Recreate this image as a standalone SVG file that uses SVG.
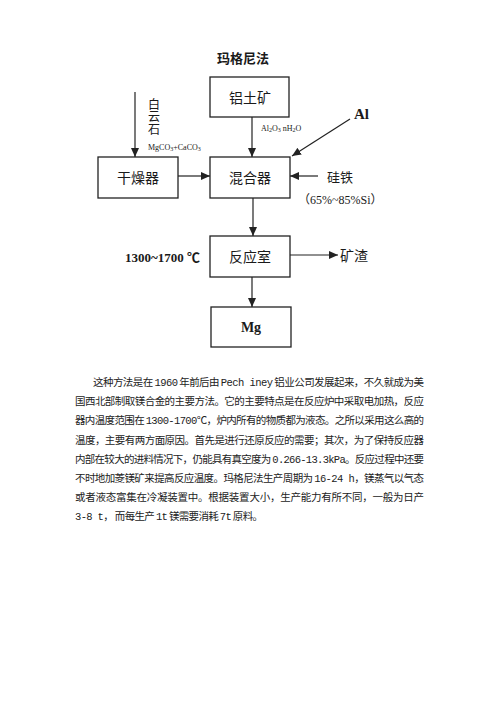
<svg xmlns="http://www.w3.org/2000/svg" width="496" height="702" viewBox="0 0 496 702">
<style>
.box{fill:#fff;stroke:#222;stroke-width:1.3}
.bt{font-family:"Noto Sans CJK SC","Noto Sans",sans-serif;font-size:14px;fill:#1a1a1a;text-anchor:middle;dominant-baseline:central}
.lbl{font-family:"Liberation Serif","Noto Sans CJK SC",serif;fill:#1a1a1a;dominant-baseline:central}
.cn{font-family:"Noto Sans CJK SC","Noto Sans",sans-serif;fill:#1a1a1a;dominant-baseline:central}
.conn line{stroke:#222;stroke-width:1.2;marker-end:url(#ah)}
.p{font-family:"Noto Sans CJK SC","Noto Sans CJK JP",sans-serif;font-size:10.5px;fill:#222}
.m{font-family:"Liberation Mono",monospace}
</style>
<defs>
<marker id="ah" markerUnits="userSpaceOnUse" markerWidth="9" markerHeight="8" refX="9" refY="4" orient="auto">
<path d="M0,0 L9,4 L0,8 z" fill="#222"/>
</marker>
</defs>
<rect width="496" height="702" fill="#fff"/>
<text x="243" y="57" class="cn" font-size="13" font-weight="bold" text-anchor="middle">玛格尼法</text>

<g id="lvtu">
<rect class="box" x="210" y="77" width="79" height="40"/>
<text class="bt" x="250" y="97">铝土矿</text>
</g>
<g id="ganzaoqi">
<rect class="box" x="98" y="157" width="80" height="41"/>
<text class="bt" x="138" y="177">干燥器</text>
</g>
<g id="hunheqi">
<rect class="box" x="210" y="157" width="80" height="41"/>
<text class="bt" x="250" y="177">混合器</text>
</g>
<g id="fanyingshi">
<rect class="box" x="210" y="236" width="80" height="41"/>
<text class="bt" x="250" y="256">反应室</text>
</g>
<g id="mg">
<rect class="box" x="211" y="307" width="80" height="40"/>
<text x="251" y="327" class="lbl" font-size="14" font-weight="bold" text-anchor="middle">Mg</text>
</g>

<g id="labels">
<text font-family="Noto Sans CJK SC, sans-serif" fill="#1a1a1a" font-size="12" x="154" y="98" writing-mode="vertical-rl" letter-spacing="0.5">白云石</text>
<text class="lbl" font-size="8" x="148" y="147">MgCO<tspan font-size="6" dy="2">3</tspan><tspan dy="-2">+CaCO</tspan><tspan font-size="6" dy="2">3</tspan></text>
<text class="lbl" font-size="8" x="261" y="128">Al<tspan font-size="6" dy="2">2</tspan><tspan dy="-2">O</tspan><tspan font-size="6" dy="2">3</tspan><tspan dy="-2"> nH</tspan><tspan font-size="6" dy="2">2</tspan><tspan dy="-2">O</tspan></text>
<text class="lbl" font-size="15" font-weight="bold" x="354" y="114">Al</text>
<text class="cn" font-size="13" x="327" y="176">硅铁</text>
<text class="lbl" font-size="12" x="298" y="200">（65%~85%Si）</text>
<text class="lbl" font-size="13" font-weight="bold" x="125" y="257">1300~1700 ℃</text>
<text class="cn" font-size="14" x="340" y="255">矿渣</text>
</g>

<g class="conn" id="connectors">
<line x1="135" y1="92" x2="135" y2="157"/>
<line x1="252" y1="117" x2="252" y2="157"/>
<line x1="350" y1="119" x2="292" y2="156"/>
<line x1="178" y1="176" x2="210" y2="176"/>
<line x1="318" y1="176" x2="290" y2="176"/>
<line x1="253" y1="198" x2="253" y2="236"/>
<line x1="290" y1="255" x2="338" y2="255"/>
<line x1="252" y1="277" x2="252" y2="307"/>
</g>

<g id="paragraph" class="p">
<text x="93" y="386" textLength="331" lengthAdjust="spacing">这种方法是在 <tspan class="m">1960</tspan> 年前后由 <tspan class="m">Pech iney</tspan> 铝业公司发展起来，不久就成为美</text>
<text x="75" y="405" textLength="349" lengthAdjust="spacing">国西北部制取镁合金的主要方法。它的主要特点是在反应炉中采取电加热，反应</text>
<text x="75" y="424" textLength="349" lengthAdjust="spacing">器内温度范围在 <tspan class="m">1300-1700</tspan>℃，炉内所有的物质都为液态。之所以采用这么高的</text>
<text x="75" y="443.5" textLength="349" lengthAdjust="spacing">温度，主要有两方面原因。首先是进行还原反应的需要；其次，为了保持反应器</text>
<text x="75" y="462.5" textLength="349" lengthAdjust="spacing">内部在较大的进料情况下，仍能具有真空度为 <tspan class="m">0.266-13.3kPa</tspan>。反应过程中还要</text>
<text x="75" y="482" textLength="349" lengthAdjust="spacing">不时地加菱镁矿来提高反应温度。玛格尼法生产周期为 <tspan class="m">16-24 h</tspan>，镁蒸气以气态</text>
<text x="75" y="501" textLength="349" lengthAdjust="spacing">或者液态富集在冷凝装置中。根据装置大小，生产能力有所不同，一般为日产</text>
<text x="75" y="520" textLength="188" lengthAdjust="spacing"><tspan class="m">3-8 t</tspan>， 而每生产 <tspan class="m">1t</tspan> 镁需要消耗 <tspan class="m">7t</tspan> 原料。</text>
</g>
</svg>
